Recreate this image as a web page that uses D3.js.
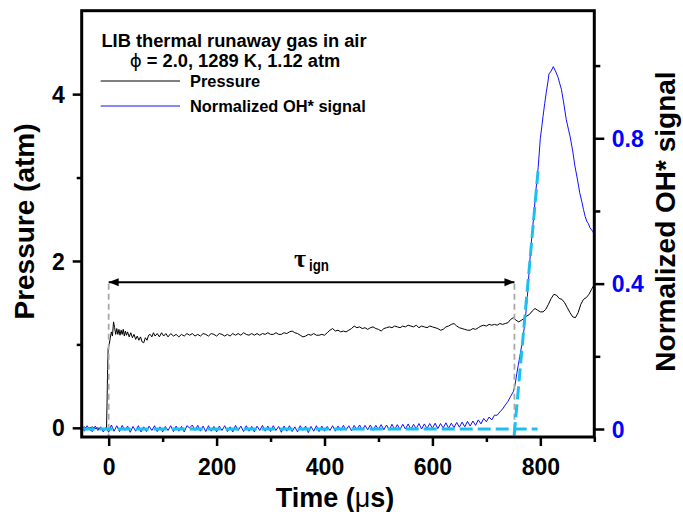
<!DOCTYPE html>
<html><head><meta charset="utf-8">
<script src="https://cdn.jsdelivr.net/npm/d3@7"></script>
<style>
html,body{margin:0;padding:0;background:#fff;}
svg{display:block;font-family:"Liberation Sans",Arial,sans-serif;}
</style></head>
<body>
<svg id="chart" width="683" height="512"></svg>
<script>
// ---- data ----
const xMajorTicks = [0, 200, 400, 600, 800];
const xMinorTicks = [100, 300, 500, 700, 900];
const leftMajorTicks = [0, 2, 4];
const leftMinorTicks = [1, 3];
const rightMajorTicks = [0, 0.4, 0.8];
const rightMinorTicks = [0.2, 0.6, 1.0];

const titleLines = ["LIB thermal runaway gas in air", " = 2.0, 1289 K, 1.12 atm"];
const legendLabels = ["Pressure", "Normalized OH* signal"];

// pressure trace [time µs, atm]
const pressureSeries = [
[-50,0.00],[-45,0.01],[-40,-0.01],[-35,0.00],[-30,0.01],[-25,-0.01],[-20,0.00],[-15,-0.02],[-10,-0.01],[-6,-0.02],[-4,0.00],
[-3,0.30],[-2,0.70],[-1,0.95],[1,1.00],[3,1.08],[5,1.15],[7,1.10],[9,1.27],[11,1.20],[13,1.12],[15,1.19],[17,1.12],[19,1.18],
[21,1.11],[23,1.17],[25,1.12],[27,1.18],[29,1.10],[31,1.16],[33,1.11],[35,1.15],[38,1.09],[41,1.14],[44,1.08],[47,1.12],
[50,1.06],[53,1.10],[56,1.05],[59,1.09],[62,1.03],[65,1.02],[68,1.08],[71,1.05],[74,1.11],[77,1.12],[80,1.09],[83,1.14],
[86,1.10],[90,1.13],[94,1.09],[98,1.14],[102,1.10],[106,1.13],[110,1.09],[115,1.13],[120,1.10],[125,1.12],[130,1.09],
[135,1.12],[140,1.10],[145,1.13],[150,1.11],[155,1.13],[160,1.10],[165,1.12],[170,1.10],[175,1.13],[180,1.12],[185,1.10],
[190,1.13],[195,1.12],[200,1.10],[205,1.13],[210,1.12],[215,1.10],[220,1.12],[225,1.10],[230,1.13],[235,1.11],[240,1.13],
[245,1.11],[250,1.14],[255,1.12],[260,1.11],[265,1.13],[270,1.11],[275,1.13],[280,1.11],[285,1.13],[290,1.12],[295,1.14],
[300,1.12],[305,1.12],[310,1.14],[315,1.12],[320,1.12],[325,1.14],[330,1.13],[335,1.15],[340,1.16],[345,1.14],[350,1.13],
[355,1.11],[360,1.09],[365,1.10],[370,1.12],[375,1.11],[380,1.13],[385,1.11],[390,1.11],[395,1.12],[400,1.11],[405,1.14],
[410,1.17],[415,1.19],[420,1.16],[425,1.17],[430,1.15],[435,1.16],[440,1.15],[445,1.17],[450,1.19],[455,1.22],[460,1.20],
[465,1.21],[470,1.19],[475,1.20],[480,1.18],[485,1.20],[490,1.21],[495,1.19],[500,1.18],[505,1.16],[510,1.19],[515,1.20],
[520,1.21],[525,1.20],[530,1.22],[535,1.21],[540,1.20],[545,1.22],[550,1.21],[555,1.23],[560,1.22],[565,1.21],[570,1.23],
[575,1.20],[580,1.22],[585,1.21],[590,1.20],[595,1.22],[600,1.21],[605,1.20],[610,1.19],[615,1.17],[620,1.18],[625,1.21],
[630,1.22],[635,1.24],[640,1.25],[645,1.22],[650,1.20],[655,1.19],[660,1.18],[665,1.17],[670,1.17],[675,1.19],[680,1.18],
[685,1.20],[690,1.22],[695,1.23],[700,1.22],[705,1.24],[710,1.23],[715,1.24],[720,1.23],[725,1.25],[730,1.24],[735,1.25],
[740,1.26],[745,1.30],[750,1.32],[755,1.29],[760,1.27],[765,1.29],[770,1.31],[775,1.34],[780,1.36],[785,1.40],[790,1.43],
[795,1.41],[800,1.39],[805,1.39],[810,1.42],[815,1.48],[820,1.55],[825,1.60],[830,1.59],[835,1.55],[840,1.54],[845,1.50],
[850,1.44],[855,1.38],[860,1.33],[865,1.32],[870,1.38],[875,1.48],[880,1.54],[885,1.56],[890,1.60],[895,1.66],[900,1.72]
];

// normalized OH* trace [time µs, normalized]
const ohSeries = [
[-50,0.007],[-45,-0.006],[-40,0.009],[-35,-0.002],[-30,-0.007],[-25,0.008],[-20,-0.004],[-15,0.006],[-10,-0.008],[-5,0.004],
[0,-0.009],[5,0.011],[10,-0.006],[15,0.009],[20,-0.007],[25,0.010],[30,-0.004],[35,0.008],[40,-0.009],[45,0.007],
[50,-0.006],[55,0.009],[60,-0.008],[65,0.006],[70,-0.007],[75,0.008],[80,-0.004],[85,0.009],[90,-0.007],[95,0.006],
[100,-0.008],[105,0.007],[110,-0.004],[115,0.009],[120,-0.007],[125,0.008],[130,-0.006],[135,0.007],[140,-0.008],[145,0.009],
[150,0.003],[155,0.011],[160,-0.004],[165,0.010],[170,-0.006],[175,0.008],[180,-0.007],[185,0.009],[190,-0.006],[195,0.007],
[200,-0.008],[205,0.008],[210,-0.004],[215,0.009],[220,-0.007],[225,0.006],[230,-0.008],[235,0.010],[240,-0.004],[245,0.008],
[250,-0.007],[255,0.009],[260,-0.006],[265,0.007],[270,-0.008],[275,0.008],[280,-0.004],[285,0.010],[290,-0.006],[295,0.008],
[300,-0.007],[305,0.009],[310,-0.004],[315,0.007],[320,-0.009],[325,0.008],[330,-0.006],[335,0.009],[340,-0.007],[345,0.006],
[350,-0.008],[355,0.009],[360,-0.004],[365,0.008],[370,-0.010],[375,0.007],[380,-0.006],[385,0.009],[390,-0.007],[395,0.008],
[400,-0.006],[405,0.007],[410,-0.004],[415,0.009],[420,-0.006],[425,0.008],[430,-0.004],[435,0.010],[440,-0.003],[445,0.009],
[450,-0.005],[455,0.010],[460,-0.002],[465,0.011],[470,-0.003],[475,0.010],[480,-0.002],[485,0.011],[490,-0.004],[495,0.010],
[500,-0.001],[505,0.012],[510,-0.002],[515,0.011],[520,-0.003],[525,0.013],[530,-0.001],[535,0.012],[540,-0.002],[545,0.013],
[550,0.000],[555,0.014],[560,-0.001],[565,0.013],[570,0.001],[575,0.015],[580,0.000],[585,0.014],[590,0.001],[595,0.015],
[600,0.002],[605,0.016],[610,0.001],[615,0.015],[620,0.003],[625,0.017],[630,0.002],[635,0.016],[640,0.004],[645,0.018],
[650,0.005],[655,0.019],[660,0.006],[665,0.021],[670,0.008],[675,0.022],[680,0.010],[685,0.025],[690,0.014],[695,0.029],
[700,0.020],[705,0.033],[710,0.025],[715,0.038],[720,0.038],[725,0.047],[730,0.055],[735,0.066],[740,0.076],[745,0.090],
[750,0.103],[753,0.120],[756,0.149],[759,0.175],[762,0.200],[766,0.235],[769,0.265],[772,0.300],[776,0.365],[779,0.430],
[782,0.494],[785,0.540],[788,0.590],[792,0.660],[796,0.720],[800,0.800],[803,0.835],[805,0.860],[808,0.895],[811,0.926],
[814,0.955],[816,0.977],[820,0.985],[824,0.997],[828,0.985],[833,0.967],[836,0.950],[839,0.935],[843,0.900],[848,0.852],
[852,0.825],[855,0.806],[860,0.765],[864,0.724],[869,0.685],[873,0.650],[877,0.625],[880,0.604],[883,0.585],[886,0.572],
[889,0.565],[892,0.554],[895,0.548],[897,0.544],[900,0.535]
];

// construction lines
const ignitionTime = 752;      // tau_ign end (µs)
const onsetTime = 0;
const arrowLevel = 0.4;        // on OH axis
const baselineFit = [[-50, 0], [795, 0]];
const tangentFit = [[751.5, -0.017], [796.5, 0.723]];

// ---- layout ----
const L = 81.7, R = 594.3, T = 10.7, B = 437.0;
const svg = d3.select("#chart");
const x = d3.scaleLinear().domain([-50, 900]).range([L, R]);
const yP = d3.scaleLinear().domain([-0.11, 5.0]).range([B, T]);
const yOH = d3.scaleLinear().domain([-0.022, 1.151]).range([B, T]);
const FONT = '"Liberation Sans", Arial, sans-serif';

svg.append("defs").append("clipPath").attr("id", "clip")
  .append("rect").attr("x", L).attr("y", T).attr("width", R - L).attr("height", B - T);

const plot = svg.append("g").attr("clip-path", "url(#clip)");

// pressure line
plot.append("path").datum(pressureSeries)
  .attr("fill", "none").attr("stroke", "#000").attr("stroke-width", 1)
  .attr("d", d3.line().x(d => x(d[0])).y(d => yP(d[1])));

// OH line
plot.append("path").datum(ohSeries)
  .attr("fill", "none").attr("stroke", "#1010ff").attr("stroke-width", 1)
  .attr("d", d3.line().x(d => x(d[0])).y(d => yOH(d[1])));

// gray dashed verticals
[onsetTime, ignitionTime].forEach(t => {
  plot.append("line")
    .attr("x1", x(t)).attr("x2", x(t))
    .attr("y1", yOH(arrowLevel)).attr("y2", B)
    .attr("stroke", "#a8a8a8").attr("stroke-width", 1.8).attr("stroke-dasharray", "6,4");
});

// cyan dashed fits
const lineOH = d3.line().x(d => x(d[0])).y(d => yOH(d[1]));
[baselineFit, tangentFit].forEach(seg => {
  plot.append("path").datum(seg)
    .attr("fill", "none").attr("stroke", "#1cc0f0").attr("stroke-width", 3)
    .attr("stroke-dasharray", "13,5").attr("d", lineOH);
});

// double arrow
const defs = svg.select("defs");
defs.append("marker").attr("id", "ah").attr("viewBox", "0 0 10 10")
  .attr("refX", 10).attr("refY", 5).attr("markerWidth", 10).attr("markerHeight", 10)
  .attr("markerUnits", "userSpaceOnUse").attr("orient", "auto-start-reverse")
  .append("path").attr("d", "M0,1 L10,5 L0,9 Z").attr("fill", "#000");
svg.append("line")
  .attr("x1", x(onsetTime)).attr("x2", x(ignitionTime))
  .attr("y1", yOH(arrowLevel) - 1.5).attr("y2", yOH(arrowLevel) - 1.5)
  .attr("stroke", "#000").attr("stroke-width", 2)
  .attr("marker-start", "url(#ah)").attr("marker-end", "url(#ah)");

// tau label
const tau = svg.append("text").attr("x", 294).attr("y", 266.5).attr("fill", "#000");
tau.append("tspan").attr("font-family", '"Liberation Serif", "DejaVu Serif", serif')
  .attr("font-weight", "bold").attr("font-size", 26).text("τ");
svg.append("text").attr("x", 309).attr("y", 270.5)
  .attr("font-family", FONT).attr("font-weight", "bold").attr("font-size", 16)
  .attr("textLength", 20).attr("lengthAdjust", "spacingAndGlyphs").text("ign");

// frame
svg.append("rect").attr("x", L).attr("y", T).attr("width", R - L).attr("height", B - T)
  .attr("fill", "none").attr("stroke", "#000").attr("stroke-width", 3);

function styleAxis(g) {
  g.select(".domain").remove();
  g.selectAll(".tick line").attr("stroke", "#000").attr("stroke-width", 2.5);
  g.selectAll("text").attr("font-family", FONT).attr("font-weight", "bold").attr("font-size", 23);
}

// x axis
svg.append("g").attr("transform", `translate(0,${B})`)
  .call(d3.axisBottom(x).tickValues(xMinorTicks).tickSize(5).tickFormat(""))
  .call(styleAxis);
const gx = svg.append("g").attr("transform", `translate(0,${B})`)
  .call(d3.axisBottom(x).tickValues(xMajorTicks).tickSize(9).tickFormat(d3.format("d")))
  .call(styleAxis);
gx.selectAll("text").attr("y", 38).attr("dy", 0).attr("fill", "#000");

// left axis
svg.append("g").attr("transform", `translate(${L},0)`)
  .call(d3.axisLeft(yP).tickValues(leftMinorTicks).tickSize(5).tickFormat(""))
  .call(styleAxis);
const gyl = svg.append("g").attr("transform", `translate(${L},0)`)
  .call(d3.axisLeft(yP).tickValues(leftMajorTicks).tickSize(9).tickFormat(d3.format("d")))
  .call(styleAxis);
gyl.selectAll("text").attr("x", -17).attr("dy", "0.35em").attr("fill", "#000");

// right axis
svg.append("g").attr("transform", `translate(${R},0)`)
  .call(d3.axisRight(yOH).tickValues(rightMinorTicks).tickSize(6).tickFormat(""))
  .call(styleAxis);
const gyr = svg.append("g").attr("transform", `translate(${R},0)`)
  .call(d3.axisRight(yOH).tickValues(rightMajorTicks).tickSize(10).tickFormat(d => d === 0 ? "0" : d3.format(".1f")(d)))
  .call(styleAxis);
gyr.selectAll("text").attr("x", 17.5).attr("dy", "0.35em").attr("fill", "#0000ff");

// axis titles
const xt = svg.append("text").attr("x", 335).attr("y", 507).attr("text-anchor", "middle")
  .attr("font-family", FONT).attr("font-weight", "bold").attr("font-size", 27).attr("fill", "#000");
xt.append("tspan").text("Time (");
xt.append("tspan").attr("font-weight", "normal").text("μ");
xt.append("tspan").text("s)");

svg.append("text").attr("transform", "translate(34,221.5) rotate(-90)").attr("text-anchor", "middle")
  .attr("font-family", FONT).attr("font-weight", "bold").attr("font-size", 28).attr("fill", "#000")
  .text("Pressure (atm)");
svg.append("text").attr("transform", "translate(675,221.5) rotate(-90)").attr("text-anchor", "middle")
  .attr("font-family", FONT).attr("font-weight", "bold").attr("font-size", 28).attr("fill", "#000")
  .text("Normalized OH* signal");

// title
svg.append("text").attr("x", 234).attr("y", 46.7).attr("text-anchor", "middle")
  .attr("font-family", FONT).attr("font-weight", "bold").attr("font-size", 18.3).text(titleLines[0]);
const t2 = svg.append("text").attr("x", 235).attr("y", 67).attr("text-anchor", "middle")
  .attr("font-family", FONT).attr("font-weight", "bold").attr("font-size", 18.3);
t2.append("tspan").attr("font-family", '"DejaVu Sans", sans-serif').attr("font-weight", "normal").text("ϕ");
t2.append("tspan").text(titleLines[1]);

// legend
const legendColors = ["#000", "#1010ff"];
const legendY = [81, 106];
legendLabels.forEach((lab, i) => {
  svg.append("line").attr("x1", 100.7).attr("x2", 180).attr("y1", legendY[i]).attr("y2", legendY[i])
    .attr("stroke", legendColors[i]).attr("stroke-width", 1);
  svg.append("text").attr("x", 190).attr("y", legendY[i] + 5.7)
    .attr("font-family", FONT).attr("font-weight", "bold").attr("font-size", 16.4).attr("fill", "#000").text(lab);
});
</script>
</body></html>
